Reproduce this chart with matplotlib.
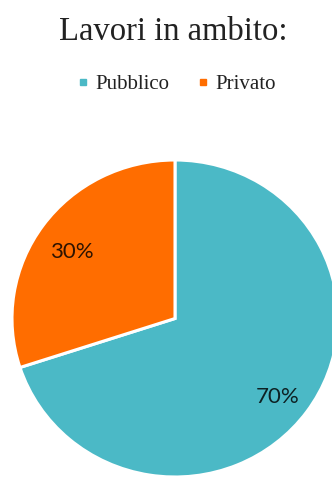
import matplotlib
matplotlib.use("Agg")
import matplotlib.pyplot as plt
from matplotlib.lines import Line2D

# Share of works by sector
categories = ["Pubblico", "Privato"]
shares = [70, 30]
colors = ["#4BB9C6", "#FF6D00"]
title = "Lavori in ambito:"

W, H = 332, 479
fig = plt.figure(figsize=(W / 100, H / 100), dpi=100)
ax = fig.add_axes([0, 0, 1, 1])

wedges, texts, autotexts = ax.pie(
    shares,
    colors=colors,
    startangle=90,
    counterclock=False,
    autopct="%d%%",
    pctdistance=0.78,
    wedgeprops=dict(edgecolor="white", linewidth=2.2),
    textprops=dict(family="Lato", fontsize=16, color="black", alpha=0.82),
)
# pie centre and radius in pixels (slightly wider than tall)
cx, cy, rx, ry = 175, 318.5, 163, 158.5
ax.set_aspect("auto")
ax.set_xlim(-cx / rx, (W - cx) / rx)
ax.set_ylim(-(H - cy) / ry, cy / ry)
ax.axis("off")

# nudge percentage labels slightly downward
for t in autotexts:
    x, y = t.get_position()
    t.set_position((x, y - 6 / ry))

fig.text(173 / W, 1 - 32 / H, title, ha="center", va="center",
         family="Liberation Serif", fontsize=23.5, color="#222222")

handles = [Line2D([], [], marker="s", linestyle="none", markersize=4.5,
                  markerfacecolor=c, markeredgecolor=c) for c in colors]
fig.legend(handles, categories, loc="center", ncol=2, frameon=False,
           bbox_to_anchor=(176 / W, 1 - 84 / H),
           prop=dict(family="Liberation Serif", size=15),
           handlelength=0.6, handletextpad=0.3, columnspacing=1.3,
           labelcolor="#222222")

fig.savefig("out.png", dpi=100)
